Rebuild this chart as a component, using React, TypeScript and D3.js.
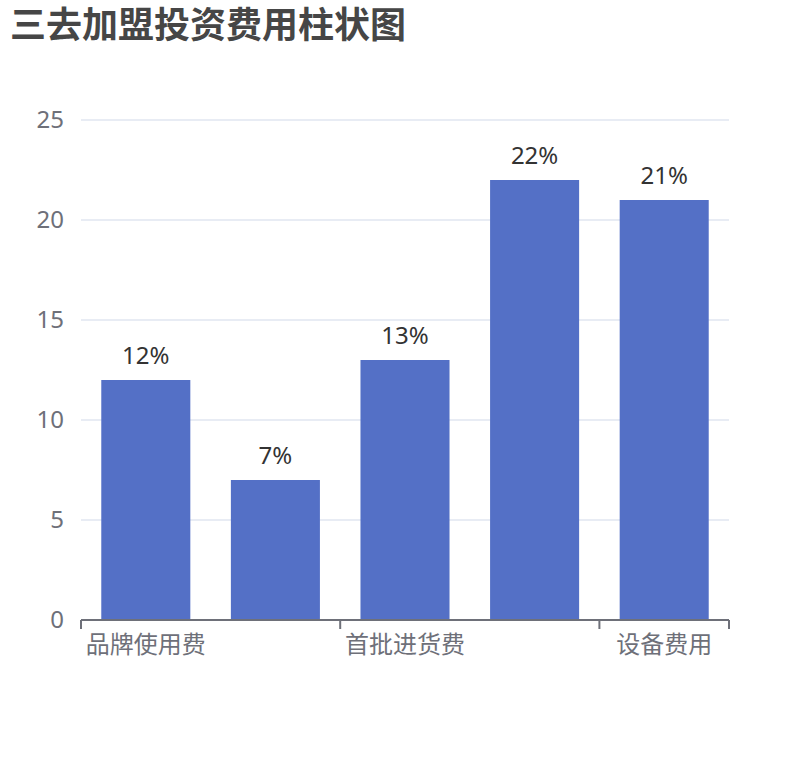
import React from "react";
import * as d3 from "d3";

const title = "三去加盟投资费用柱状图";
// 2nd and 4th category labels are hidden by the axis label interval in the reference
const categories = ["品牌使用费", "店面装修费", "首批进货费", "人员培训费", "设备费用"];
const values = [12, 7, 13, 22, 21];
const labels = ["12%", "7%", "13%", "22%", "21%"];
const yTicks = [0, 5, 10, 15, 20, 25];

const W = 810;
const H = 760;
const M = { left: 81, right: 729, top: 120, bottom: 620 };
const FONT = '"Noto Sans", "Noto Sans CJK SC", sans-serif';

export default function App() {
  const x = d3.scaleBand<string>().domain(categories).range([M.left, M.right]).padding(0);
  const y = d3.scaleLinear().domain([0, 25]).range([M.bottom, M.top]);
  const bw = x.bandwidth() * 0.687;
  const boundaries = [0, 2, 4].map((i) => x(categories[i]) as number).concat([M.right]);

  return (
    <svg width={W} height={H} style={{ position: "absolute", left: 0, top: 0, background: "#fff" }}>
      <text x={10} y={38} fontSize={36} fontWeight="bold" fill="#464646" fontFamily={FONT}>
        {title}
      </text>
      {yTicks.map((t) => (
        <g key={t}>
          {t > 0 && (
            <line x1={M.left} x2={M.right} y1={y(t)} y2={y(t)} stroke="#E0E6F1" strokeWidth={1.5} />
          )}
          <text
            x={64}
            y={y(t)}
            dy="0.35em"
            textAnchor="end"
            fontSize={24}
            fill="#6E7079"
            fontFamily={FONT}
          >
            {t}
          </text>
        </g>
      ))}
      {categories.map((c, i) => {
        const cx = (x(c) as number) + x.bandwidth() / 2;
        return (
          <g key={c}>
            <rect x={cx - bw / 2} y={y(values[i])} width={bw} height={y(0) - y(values[i])} fill="#5470C6" />
            <text
              x={cx}
              y={y(values[i]) - 16}
              textAnchor="middle"
              fontSize={24}
              fill="#333"
              fontFamily={FONT}
            >
              {labels[i]}
            </text>
            {i % 2 === 0 && (
              <text x={cx} y={653} textAnchor="middle" fontSize={24} fill="#6E7079" fontFamily={FONT}>
                {c}
              </text>
            )}
          </g>
        );
      })}
      <line x1={M.left} x2={M.right} y1={M.bottom} y2={M.bottom} stroke="#6E7079" strokeWidth={2} />
      {boundaries.map((bx, i) => (
        <line key={i} x1={bx} x2={bx} y1={M.bottom} y2={M.bottom + 9} stroke="#6E7079" strokeWidth={2} />
      ))}
    </svg>
  );
}
